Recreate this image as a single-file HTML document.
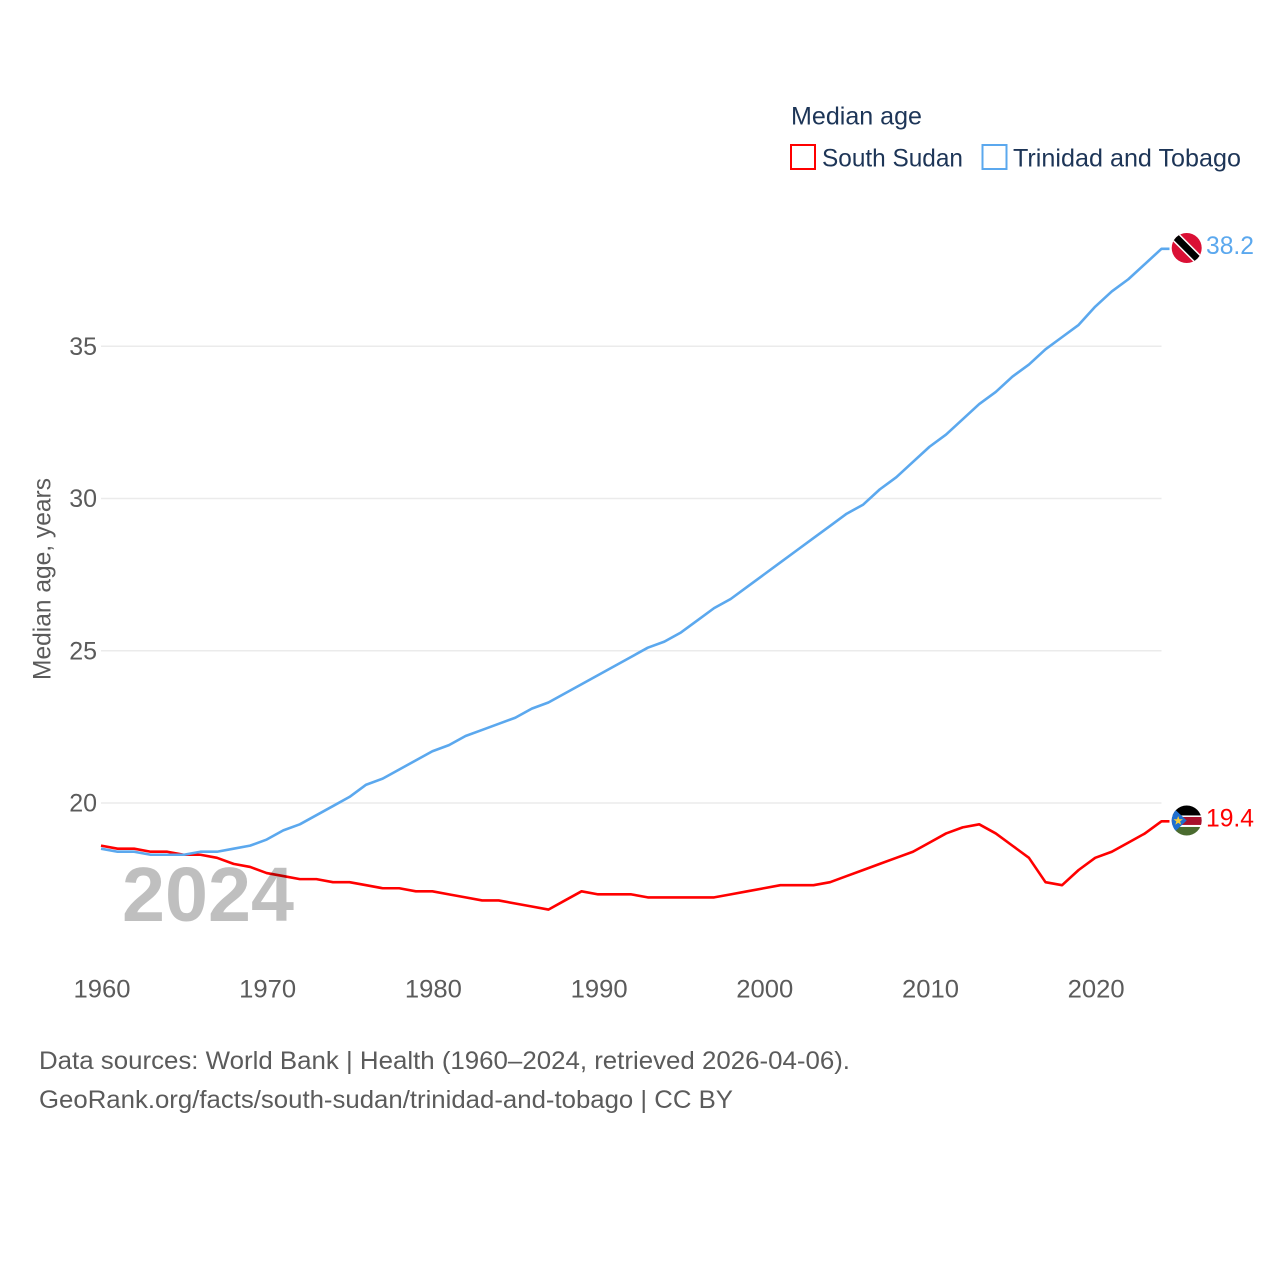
<!DOCTYPE html>
<html lang="en">
<head>
<meta charset="utf-8">
<title>Median age: South Sudan and Trinidad and Tobago</title>
<style>
html,body{margin:0;padding:0;background:#fff}
svg{display:block}
text{font-family:"Liberation Sans",sans-serif}
</style>
</head>
<body>
<svg id="chart" xmlns="http://www.w3.org/2000/svg" width="1280" height="1280" viewBox="0 0 1280 1280">
  <defs>
    <clipPath id="flag-clip"><circle cx="0" cy="0" r="15"></circle></clipPath>
  </defs>
  <rect width="1280" height="1280" fill="#fff"></rect>

  <g id="grid"></g>
  <g id="y-ticks"></g>
  <g id="x-ticks"></g>

  <text transform="translate(50.5,680) rotate(-90)" font-size="25" fill="#5b5b5b" textLength="202" lengthAdjust="spacingAndGlyphs">Median age, years</text>

  <g id="series"></g>

  <text x="122" y="921" font-size="77" font-weight="700" fill="#000" fill-opacity="0.25" textLength="172" lengthAdjust="spacingAndGlyphs">2024</text>

  <g id="end-markers"></g>

  <g>
    <text x="791" y="124.5" font-size="25" fill="#1d3557" textLength="131" lengthAdjust="spacingAndGlyphs">Median age</text>
    <g>
      <rect x="791" y="145" width="24" height="24" fill="none" stroke="#ff0000" stroke-width="2"></rect>
      <text x="822" y="166.5" font-size="25" fill="#1d3557" textLength="141" lengthAdjust="spacingAndGlyphs">South Sudan</text>
    </g>
    <g>
      <rect x="982.5" y="145" width="24" height="24" fill="none" stroke="#5ba8ee" stroke-width="2"></rect>
      <text x="1013" y="166.5" font-size="25" fill="#1d3557" textLength="228" lengthAdjust="spacingAndGlyphs">Trinidad and Tobago</text>
    </g>
  </g>

  <text x="39" y="1069" font-size="25" fill="#5b5b5b" textLength="811" lengthAdjust="spacingAndGlyphs">Data sources: World Bank | Health (1960–2024, retrieved 2026-04-06).</text>
  <text x="39" y="1108" font-size="25" fill="#5b5b5b" textLength="694" lengthAdjust="spacingAndGlyphs">GeoRank.org/facts/south-sudan/trinidad-and-tobago | CC BY</text>
</svg>

<script>
const years = [1960,1961,1962,1963,1964,1965,1966,1967,1968,1969,1970,1971,1972,1973,1974,1975,1976,1977,1978,1979,1980,1981,1982,1983,1984,1985,1986,1987,1988,1989,1990,1991,1992,1993,1994,1995,1996,1997,1998,1999,2000,2001,2002,2003,2004,2005,2006,2007,2008,2009,2010,2011,2012,2013,2014,2015,2016,2017,2018,2019,2020,2021,2022,2023,2024];
const southSudan = [18.6,18.5,18.5,18.4,18.4,18.3,18.3,18.2,18.0,17.9,17.7,17.6,17.5,17.5,17.4,17.4,17.3,17.2,17.2,17.1,17.1,17.0,16.9,16.8,16.8,16.7,16.6,16.5,16.8,17.1,17.0,17.0,17.0,16.9,16.9,16.9,16.9,16.9,17.0,17.1,17.2,17.3,17.3,17.3,17.4,17.6,17.8,18.0,18.2,18.4,18.7,19.0,19.2,19.3,19.0,18.6,18.2,17.4,17.3,17.8,18.2,18.4,18.7,19.0,19.4];
const trinidadTobago = [18.5,18.4,18.4,18.3,18.3,18.3,18.4,18.4,18.5,18.6,18.8,19.1,19.3,19.6,19.9,20.2,20.6,20.8,21.1,21.4,21.7,21.9,22.2,22.4,22.6,22.8,23.1,23.3,23.6,23.9,24.2,24.5,24.8,25.1,25.3,25.6,26.0,26.4,26.7,27.1,27.5,27.9,28.3,28.7,29.1,29.5,29.8,30.3,30.7,31.2,31.7,32.1,32.6,33.1,33.5,34.0,34.4,34.9,35.3,35.7,36.3,36.8,37.2,37.7,38.2];
const yTickValues = [20,25,30,35];
const xTickValues = [1960,1970,1980,1990,2000,2010,2020];

const NS = 'http://www.w3.org/2000/svg';
const xScale = year => 101 + (year - 1960) * 16.57;
const yScale = value => 803 - (value - 20) * 30.45;
const plotLeft = xScale(1960);
const plotRight = xScale(2024);
const RED = '#ff0000';
const BLUE = '#5ba8ee';

function make(tag, attrs, parent) {
  const el = document.createElementNS(NS, tag);
  for (const key in attrs) el.setAttribute(key, attrs[key]);
  parent.appendChild(el);
  return el;
}

const gridGroup = document.getElementById('grid');
const yGroup = document.getElementById('y-ticks');
yTickValues.forEach(v => {
  const line = make('line', {x1: plotLeft, x2: plotRight, y1: yScale(v), y2: yScale(v), stroke: '#ebebeb', 'stroke-width': 1.5}, gridGroup);
  
  
  const label = make('text', {x: 97, y: yScale(v) + 8.5, 'font-size': 25, fill: '#5b5b5b', 'text-anchor': 'end'}, yGroup);
  
  
  label.textContent = String(v);
});

const xGroup = document.getElementById('x-ticks');
xTickValues.forEach(v => {
  const label = make('text', {x: xScale(v) - 27.5, y: 997.5, 'font-size': 25, fill: '#5b5b5b', textLength: 57, lengthAdjust: 'spacingAndGlyphs'}, xGroup);
  
  
  label.textContent = String(v);
});

const seriesGroup = document.getElementById('series');
function drawSeries(values, color, name) {
  const pts = values.map((v, i) => xScale(years[i]).toFixed(2) + ',' + yScale(v).toFixed(2));
  const last = values[values.length - 1];
  pts.push((plotRight + 8).toFixed(2) + ',' + yScale(last).toFixed(2));
  const line = make('polyline', {points: pts.join(' '), fill: 'none', stroke: color, 'stroke-width': 2.6, 'stroke-linejoin': 'round'}, seriesGroup);
  
  
}
drawSeries(southSudan, RED, 'south-sudan');
drawSeries(trinidadTobago, BLUE, 'trinidad-and-tobago');

const markers = document.getElementById('end-markers');

function drawTrinidadFlag(y) {
  const g = make('g', {transform: 'translate(1186.7,' + y + ')', 'clip-path': 'url(#flag-clip)'}, markers);
  
  
  make('rect', {x: -16, y: -16, width: 32, height: 32, fill: '#da1035'}, g);
  make('line', {x1: -16, y1: -16, x2: 16, y2: 16, stroke: '#fff', 'stroke-width': 10}, g);
  make('line', {x1: -16, y1: -16, x2: 16, y2: 16, stroke: '#000', 'stroke-width': 7}, g);
}

function drawSudanFlag(y) {
  const g = make('g', {transform: 'translate(1186.7,' + y + ')', 'clip-path': 'url(#flag-clip)'}, markers);
  
  
  make('rect', {x: -16, y: -16, width: 32, height: 11, fill: '#000'}, g);
  make('rect', {x: -16, y: -5, width: 32, height: 10.5, fill: '#fff'}, g);
  make('rect', {x: -16, y: -3.5, width: 32, height: 8, fill: '#a8102c'}, g);
  make('rect', {x: -16, y: 4.5, width: 32, height: 2, fill: '#fff'}, g);
  make('rect', {x: -16, y: 6.5, width: 32, height: 10, fill: '#4a6b2f'}, g);
  make('polygon', {points: '-16,-15 0,0 -16,15', fill: '#1f6fd0'}, g);
  make('polygon', {points: '-8.5,-4.5 -7.3,-1.2 -3.8,-1.2 -6.6,0.9 -5.6,4.3 -8.5,2.3 -11.4,4.3 -10.4,0.9 -13.2,-1.2 -9.7,-1.2', fill: '#f4cc3c'}, g);
}

function drawValueLabel(value, color, name) {
  const label = make('text', {x: 1206, y: yScale(value) + 5, 'font-size': 25, fill: color, textLength: 48, lengthAdjust: 'spacingAndGlyphs'}, markers);
  
  
  label.textContent = value.toFixed(1);
}

const lastTT = trinidadTobago[trinidadTobago.length - 1];
const lastSS = southSudan[southSudan.length - 1];
drawTrinidadFlag(yScale(lastTT) - 0.8);
drawSudanFlag(yScale(lastSS) - 0.8);
drawValueLabel(lastTT, BLUE, 'trinidad-and-tobago');
drawValueLabel(lastSS, RED, 'south-sudan');
</script>
</body>
</html>
